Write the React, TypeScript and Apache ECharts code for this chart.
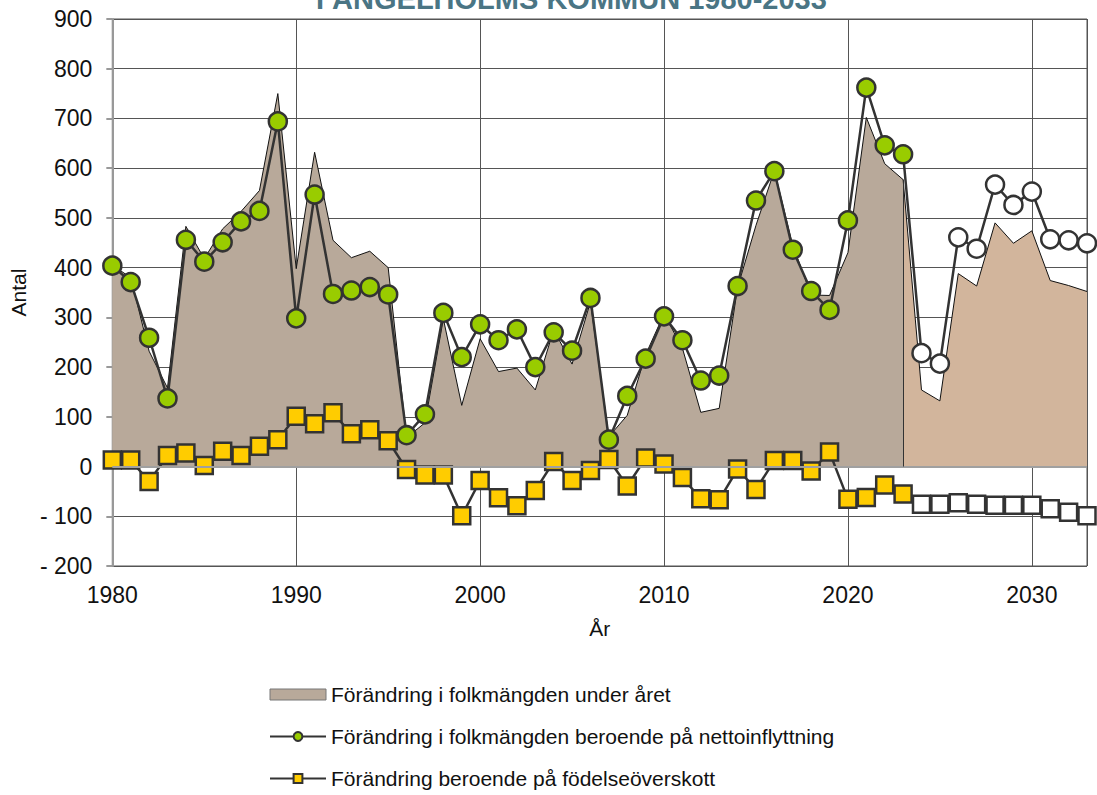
import React, { useEffect, useRef } from "react";
import * as echarts from "echarts";

const years: number[] = [];
for (let y = 1980; y <= 2033; y++) years.push(y);

const FORECAST_START = 2024;

// Förändring i folkmängden under året (historic 1980-2023)
const totalHist = [
  405, 380, 232, 158, 483, 418, 478, 513, 555, 750,
  398, 632, 455, 420, 433, 400, 58, 88, 297, 123,
  257, 191, 198, 154, 275, 206, 331, 60, 103, 225,
  307, 238, 109, 117, 360, 485, 595, 445, 345, 344,
  430, 702, 609, 577,
];
// Prognos 2023-2033
const totalForecastYears = [2023, 2024, 2025, 2026, 2027, 2028, 2029, 2030, 2031, 2032, 2033];
const totalForecast = [577, 154, 132, 388, 363, 490, 449, 474, 374, 364, 352];

// Förändring i folkmängden beroende på nettoinflyttning 1980-2033
const netMigration = [
  404, 371, 259, 137, 456, 412, 451, 493, 514, 694,
  298, 547, 347, 354, 361, 346, 63, 105, 309, 220,
  286, 254, 276, 200, 270, 233, 339, 54, 142, 217,
  302, 254, 173, 183, 363, 535, 594, 436, 353, 315,
  495, 762, 646, 628, 228, 207, 461, 438, 567, 526,
  553, 457, 455, 449,
];

// Förändring beroende på födelseöverskott 1980-2033
const birthSurplus = [
  13, 13, -30, 22, 27, 2, 31, 22, 41, 54,
  101, 86, 108, 66, 74, 52, -6, -17, -17, -99,
  -28, -63, -79, -48, 10, -28, -8, 14, -39, 17,
  5, -22, -65, -67, -5, -46, 12, 12, -9, 29,
  -66, -62, -37, -55, -76, -76, -73, -76, -78, -78,
  -78, -85, -92, -99,
];

const NAME_TOTAL = "Förändring i folkmängden under året";
const NAME_NET = "Förändring i folkmängden beroende på nettoinflyttning";
const NAME_BIRTH = "Förändring beroende på födelseöverskott";

const TITLE_LINE = "I ÄNGELHOLMS KOMMUN 1980-2033";

export default function App() {
  const ref = useRef<HTMLDivElement>(null);

  useEffect(() => {
    if (!ref.current) return;
    const chart = echarts.init(ref.current, null, { renderer: "svg" });

    const mk = (vals: number[]) =>
      years.map((y, i) =>
        y >= FORECAST_START
          ? { value: [y, vals[i]], itemStyle: { color: "#ffffff" } }
          : { value: [y, vals[i]] }
      );

    const font = "'Liberation Sans', Arial, sans-serif";

    const option: any = {
      animation: false,
      backgroundColor: "#ffffff",
      textStyle: { fontFamily: font },
      grid: {
        left: 112,
        right: 10,
        top: 19,
        bottom: 229,
        show: true,
        borderColor: "#555",
        borderWidth: 1,
        backgroundColor: "transparent",
      },
      graphic: [
        {
          type: "text",
          left: 316,
          top: -16,
          style: {
            text: TITLE_LINE,
            fontFamily: "'Liberation Sans Narrow', 'Liberation Sans', Arial, sans-serif",
            fontWeight: "bold",
            fontSize: 29,
            fill: "#4a7584",
          },
          z: 100,
        },
      ],
      xAxis: {
        type: "value",
        min: 1980,
        max: 2033,
        interval: 10,
        name: "År",
        nameLocation: "middle",
        nameGap: 52,
        nameTextStyle: { fontSize: 21, color: "#111", fontFamily: font },
        axisLine: { show: false },
        axisTick: { show: false },
        axisLabel: {
          fontSize: 23,
          color: "#111",
          margin: 17,
          fontFamily: font,
          formatter: (v: number) => (v % 10 === 0 ? String(v) : ""),
        },
        splitLine: { show: true, lineStyle: { color: "#555", width: 1 } },
      },
      yAxis: {
        type: "value",
        min: -200,
        max: 900,
        interval: 100,
        name: "Antal",
        nameLocation: "middle",
        nameGap: 81,
        nameTextStyle: { fontSize: 21, color: "#111", fontFamily: font },
        axisLine: { show: true, onZero: false, lineStyle: { color: "#999", width: 2 } },
        axisTick: { show: true, length: 6, lineStyle: { color: "#999", width: 2 } },
        axisLabel: {
          fontSize: 23,
          color: "#111",
          margin: 20,
          fontFamily: font,
          formatter: (v: number) => (v < 0 ? "- " + Math.abs(v) : String(v)),
        },
        splitLine: { show: true, lineStyle: { color: "#555", width: 1 } },
      },
      legend: {
        orient: "vertical",
        left: 269,
        top: 684,
        height: 140,
        padding: 0,
        itemWidth: 56,
        itemHeight: 11,
        itemGap: 21,
        textStyle: { fontSize: 21, color: "#111", fontFamily: font },
        data: [
          {
            name: NAME_TOTAL,
            icon: "rect",
            itemStyle: { color: "#b8a99a", borderColor: "#777", borderWidth: 1 },
          },
          { name: NAME_NET },
          { name: NAME_BIRTH },
        ],
      },
      series: [
        {
          name: NAME_TOTAL,
          type: "line",
          data: years.slice(0, totalHist.length).map((y, i) => [y, totalHist[i]]),
          symbol: "none",
          lineStyle: { color: "#111", width: 1 },
          itemStyle: { color: "#b8a99a" },
          areaStyle: { color: "#b8a99a", opacity: 1 },
          z: 1,
          silent: true,
          markLine: {
            silent: true,
            symbol: "none",
            label: { show: false },
            lineStyle: { color: "#a0a0a0", width: 2, type: "solid" },
            data: [{ yAxis: 0 }],
          },
        },
        {
          name: "Prognos",
          type: "line",
          data: totalForecastYears.map((y, i) => [y, totalForecast[i]]),
          symbol: "none",
          lineStyle: { color: "#111", width: 1 },
          itemStyle: { color: "#d2b59c" },
          areaStyle: { color: "#d2b59c", opacity: 1 },
          z: 1,
          silent: true,
          markLine: {
            silent: true,
            symbol: "none",
            label: { show: false },
            lineStyle: { color: "#333", width: 1, type: "solid" },
            data: [
              [
                { coord: [totalForecastYears[0], 0] },
                { coord: [totalForecastYears[0], totalForecast[0]] },
              ],
            ],
          },
        },
        {
          name: NAME_BIRTH,
          type: "line",
          data: mk(birthSurplus),
          symbol: "rect",
          symbolSize: 17,
          lineStyle: { color: "#333", width: 2.5 },
          itemStyle: { color: "#ffcc00", borderColor: "#333", borderWidth: 2.5 },
          z: 3,
        },
        {
          name: NAME_NET,
          type: "line",
          data: mk(netMigration),
          symbol: "circle",
          symbolSize: 18,
          lineStyle: { color: "#333", width: 2.5 },
          itemStyle: { color: "#99cc00", borderColor: "#333", borderWidth: 2.5 },
          z: 4,
        },
      ],
    };

    chart.setOption(option);
    return () => chart.dispose();
  }, []);

  return (
    <div
      ref={ref}
      style={{ position: "absolute", left: 0, top: 0, width: 1097, height: 795 }}
    />
  );
}
